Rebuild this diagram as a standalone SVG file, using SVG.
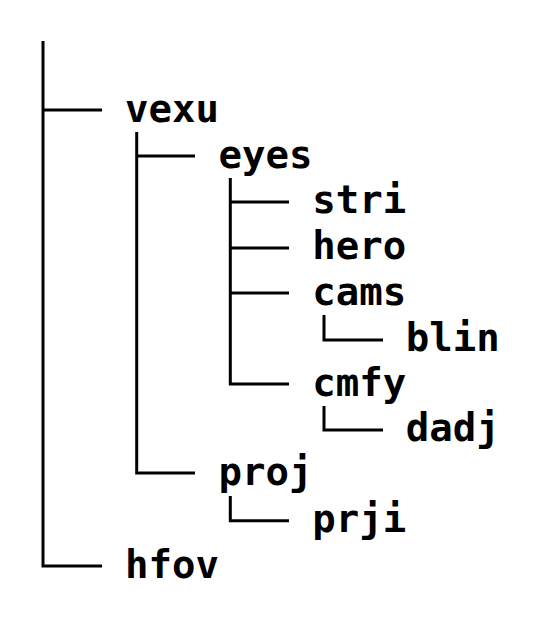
<svg xmlns="http://www.w3.org/2000/svg" width="540" height="618" viewBox="0 0 540 618">
<style>
.c{stroke:#000;stroke-width:3;fill:none;stroke-linecap:butt}
text{font-family:"DejaVu Sans Mono","Liberation Mono",monospace;font-weight:bold;font-size:39px;fill:#000}
</style>
<rect width="540" height="618" fill="#fff"/>
<g id="connectors">
<path class="c" d="M43,41V566H102M43,110H102"/>
<path class="c" d="M136.7,132V473H195M136.7,156H195"/>
<path class="c" d="M230.3,178V384H289M230.3,202H289M230.3,248H289M230.3,293H289"/>
<path class="c" d="M324,315V340H383"/>
<path class="c" d="M324,406V430H383"/>
<path class="c" d="M230.3,496V520.7H289"/>
</g>
<g id="vexu"><text x="125" y="121.5">vexu</text></g>
<g id="eyes"><text x="218.6" y="167.5">eyes</text></g>
<g id="stri"><text x="312.2" y="213">stri</text></g>
<g id="hero"><text x="312.2" y="259">hero</text></g>
<g id="cams"><text x="312.2" y="304.5">cams</text></g>
<g id="blin"><text x="405.8" y="351">blin</text></g>
<g id="cmfy"><text x="312.2" y="395.5">cmfy</text></g>
<g id="dadj"><text x="405.8" y="441">dadj</text></g>
<g id="proj"><text x="218.6" y="484.5">proj</text></g>
<g id="prji"><text x="312.2" y="532">prji</text></g>
<g id="hfov"><text x="125" y="577.5">hfov</text></g>
</svg>
